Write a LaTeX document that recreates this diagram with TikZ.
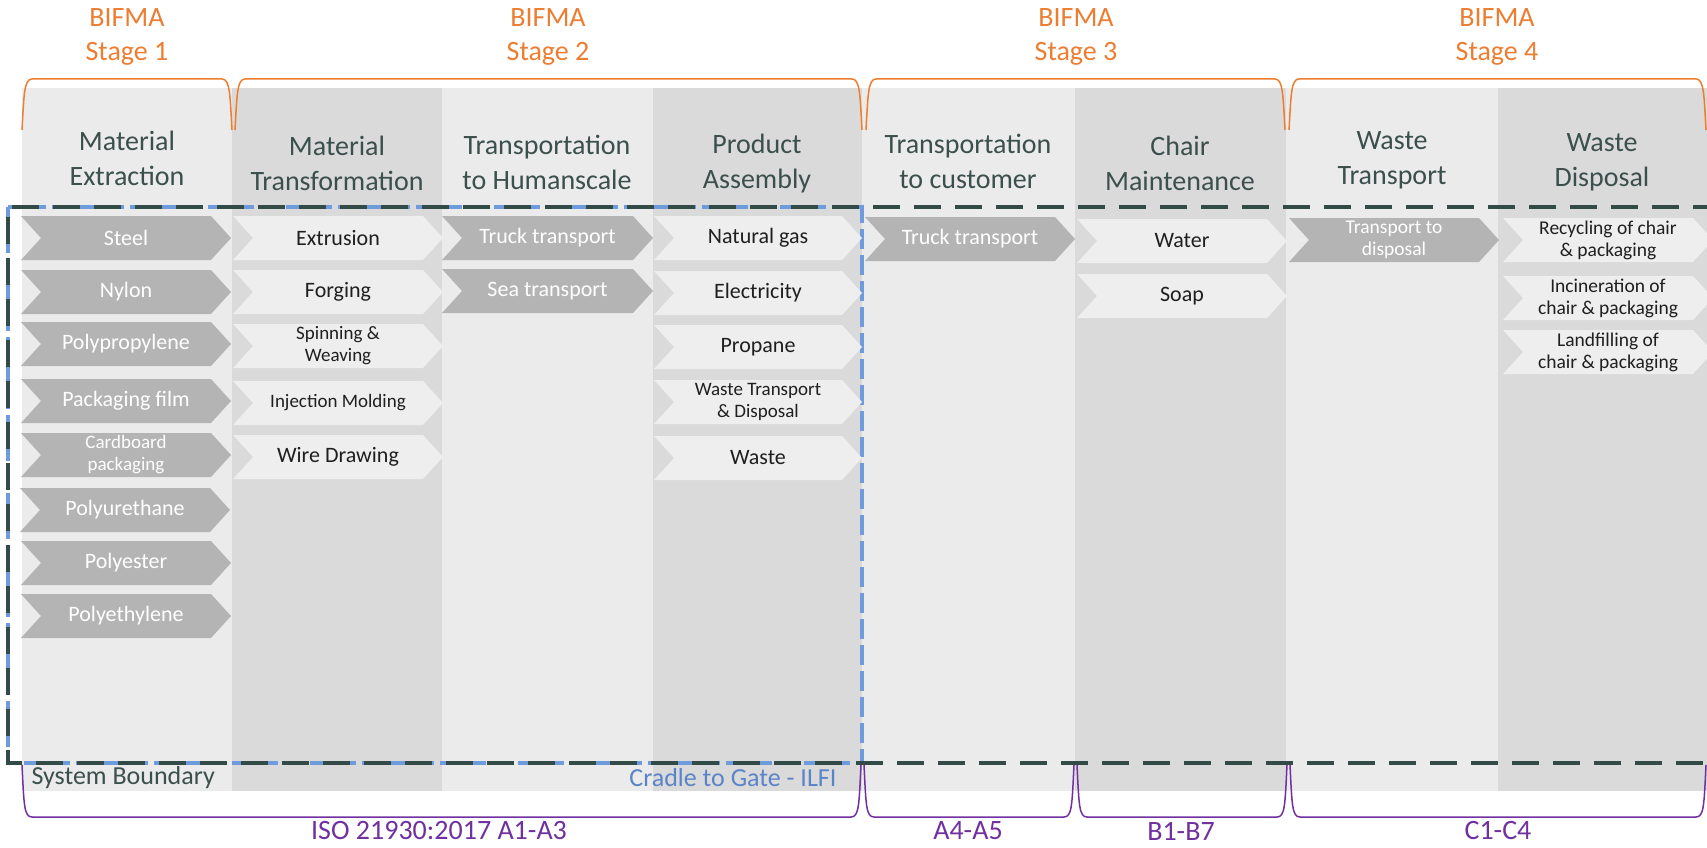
\documentclass[tikz,border=0pt]{standalone}
\usepackage{fontspec}
\setmainfont{Carlito}
\definecolor{bgL}{HTML}{EBEBEB}
\definecolor{bgD}{HTML}{DBDADB}
\definecolor{chD}{HTML}{B4B4B4}
\definecolor{chL}{HTML}{EEEEEE}
\definecolor{hdrc}{HTML}{3B4F4C}
\definecolor{orng}{HTML}{ED7D31}
\definecolor{purp}{HTML}{7030A0}
\definecolor{bluec}{HTML}{5A84C8}
\definecolor{blued}{HTML}{6E9BDC}
\definecolor{darkd}{HTML}{334B47}
\newcommand{\chv}[7]{%
  \path[chev#5] (#2,#4-22) -- (#3-20,#4-22) -- (#3,#4) -- (#3-20,#4+22) -- (#2,#4+22) -- (#2+20,#4) -- cycle;
  \node[txt#5,#6] (#1) at ({(#2+#3)/2},#4) {#7};}
\newcommand{\obrk}[2]{\draw[obr] (#1,130) .. controls (#1+2,95) and (#1+2,79) .. (#1+10,79) -- (#2-10,79) .. controls (#2-2,79) and (#2-2,95) .. (#2,130);}
\newcommand{\pbrk}[2]{\draw[pbr] (#1,765) .. controls (#1+2,805) and (#1+2,817) .. (#1+10,817) -- (#2-10,817) .. controls (#2-2,817) and (#2-2,805) .. (#2,765);}
\begin{document}
\begin{tikzpicture}[x=1pt,y=-1pt,
  colL/.style={fill=bgL},
  colD/.style={fill=bgD},
  chevD/.style={fill=chD},
  chevL/.style={fill=chL},
  txtD/.style={text=white,align=center,inner sep=0pt},
  txtL/.style={text=black!88,align=center,inner sep=0pt},
  f22/.style={font=\fontsize{22}{26}\selectfont},
  f19/.style={font=\fontsize{19}{22}\selectfont},
  f18/.style={font=\fontsize{19.5}{22}\selectfont},
  hdr/.style={text=hdrc,align=center,font=\fontsize{28}{35}\selectfont},
  stage/.style={text=orng,align=center,font=\fontsize{28}{34}\selectfont},
  obr/.style={draw=orng,line width=1.5pt},
  pbr/.style={draw=purp,line width=1.5pt},
  plab/.style={text=purp,font=\fontsize{28}{34}\selectfont},
  bnd/.style={font=\fontsize{26}{30}\selectfont}
]
\useasboundingbox (0,0) rectangle (1707,848);
\clip (0,0) rectangle (1707,848);
\fill[white] (0,0) rectangle (1707,848);
% columns
\path[colL] (22,88) rectangle (232,791);
\path[colD] (232,88) rectangle (442,791);
\path[colL] (442,88) rectangle (653,791);
\path[colD] (653,88) rectangle (862,791);
\path[colL] (862,88) rectangle (1075,791);
\path[colD] (1075,88) rectangle (1286,791);
\path[colL] (1286,88) rectangle (1498,791);
\path[colD] (1498,88) rectangle (1707,791);
% stage labels
\node[stage] (s1) at (127,37) {BIFMA\\Stage 1};
\node[stage] (s2) at (548,37) {BIFMA\\Stage 2};
\node[stage] (s3) at (1076,37) {BIFMA\\Stage 3};
\node[stage] (s4) at (1497,37) {BIFMA\\Stage 4};
\obrk{22}{232}
\obrk{235}{862}
\obrk{866}{1285}
\obrk{1289}{1706}
% headers
\node[hdr] (h1) at (127,158) {Material\\Extraction};
\node[hdr] (h2) at (337,163) {Material\\Transformation};
\node[hdr] (h3) at (547,162) {Transportation\\to Humanscale};
\node[hdr] (h4) at (757,164) {Product\\Assembly};
\node[hdr] (h5) at (968,161) {Transportation\\to customer};
\node[hdr] (h6) at (1180,163) {Chair\\Maintenance};
\node[hdr] (h7) at (1392,160) {Waste\\Transport};
\node[hdr] (h8) at (1602,162) {Waste\\Disposal};
% boundaries
\draw[blued,line width=3.2pt,dash pattern=on 20pt off 6pt] (8,207) rectangle (862,763);
\draw[darkd,line width=4.5pt,dash pattern=on 27pt off 14pt] (1720,207) -- (8,207) -- (8,763) -- (1720,763);
% column 1
\chv{a1}{21}{231}{238}{D}{f22}{Steel}
\chv{a2}{21}{231}{292}{D}{f22}{Nylon}
\chv{a3}{21}{231}{344}{D}{f22}{Polypropylene}
\chv{a4}{21}{231}{401}{D}{f22}{Packaging film}
\chv{a5}{21}{231}{455}{D}{f19}{Cardboard\\packaging}
\chv{a6}{20}{230}{510}{D}{f22}{Polyurethane}
\chv{a7}{21}{231}{563}{D}{f22}{Polyester}
\chv{a8}{21}{231}{616}{D}{f22}{Polyethylene}
% column 2
\chv{b1}{233}{443}{238}{L}{f22}{Extrusion}
\chv{b2}{233}{443}{292}{L}{f22}{Forging}
\chv{b3}{233}{443}{346}{L}{f19}{Spinning \&\\Weaving}
\chv{b4}{233}{443}{403}{L}{f19}{Injection Molding}
\chv{b5}{233}{443}{457}{L}{f22}{Wire Drawing}
% column 3
\chv{c1}{442}{653}{238}{D}{f22}{Truck transport}
\chv{c2}{442}{653}{291}{D}{f22}{Sea transport}
% column 4
\chv{d1}{654}{862}{238}{L}{f22}{Natural gas}
\chv{d2}{654}{862}{293}{L}{f22}{Electricity}
\chv{d3}{654}{862}{347}{L}{f22}{Propane}
\chv{d4}{654}{862}{402}{L}{f19}{Waste Transport\\\& Disposal}
\chv{d5}{654}{862}{458}{L}{f22}{Waste}
% column 5
\chv{e1}{865}{1075}{239}{D}{f22}{Truck transport}
% column 6
\chv{g1}{1077}{1287}{241}{L}{f22}{Water}
\chv{g2}{1077}{1287}{296}{L}{f22}{Soap}
% column 7
\chv{k1}{1289}{1499}{240}{D}{f18}{Transport to\\disposal}
% column 8
\chv{m1}{1503}{1713}{240}{L}{f18}{Recycling of chair\\\& packaging}
\chv{m2}{1503}{1713}{298}{L}{f18}{Incineration of\\chair \& packaging}
\chv{m3}{1503}{1713}{352}{L}{f18}{Landfilling of\\chair \& packaging}
% boundary labels
\node[bnd,text=hdrc,anchor=west] (sb) at (28,778) {System Boundary};
\node[bnd,text=bluec,anchor=east] (cg) at (840,778) {Cradle to Gate - ILFI};
% purple brackets
\pbrk{22}{861}
\pbrk{864}{1074}
\pbrk{1077}{1287}
\pbrk{1290}{1706}
\node[plab] (p1) at (439,831) {ISO 21930:2017 A1-A3};
\node[plab] (p2) at (968,831) {A4-A5};
\node[plab] (p3) at (1181,831) {B1-B7};
\node[plab] (p4) at (1498,831) {C1-C4};
\end{tikzpicture}
\end{document}
